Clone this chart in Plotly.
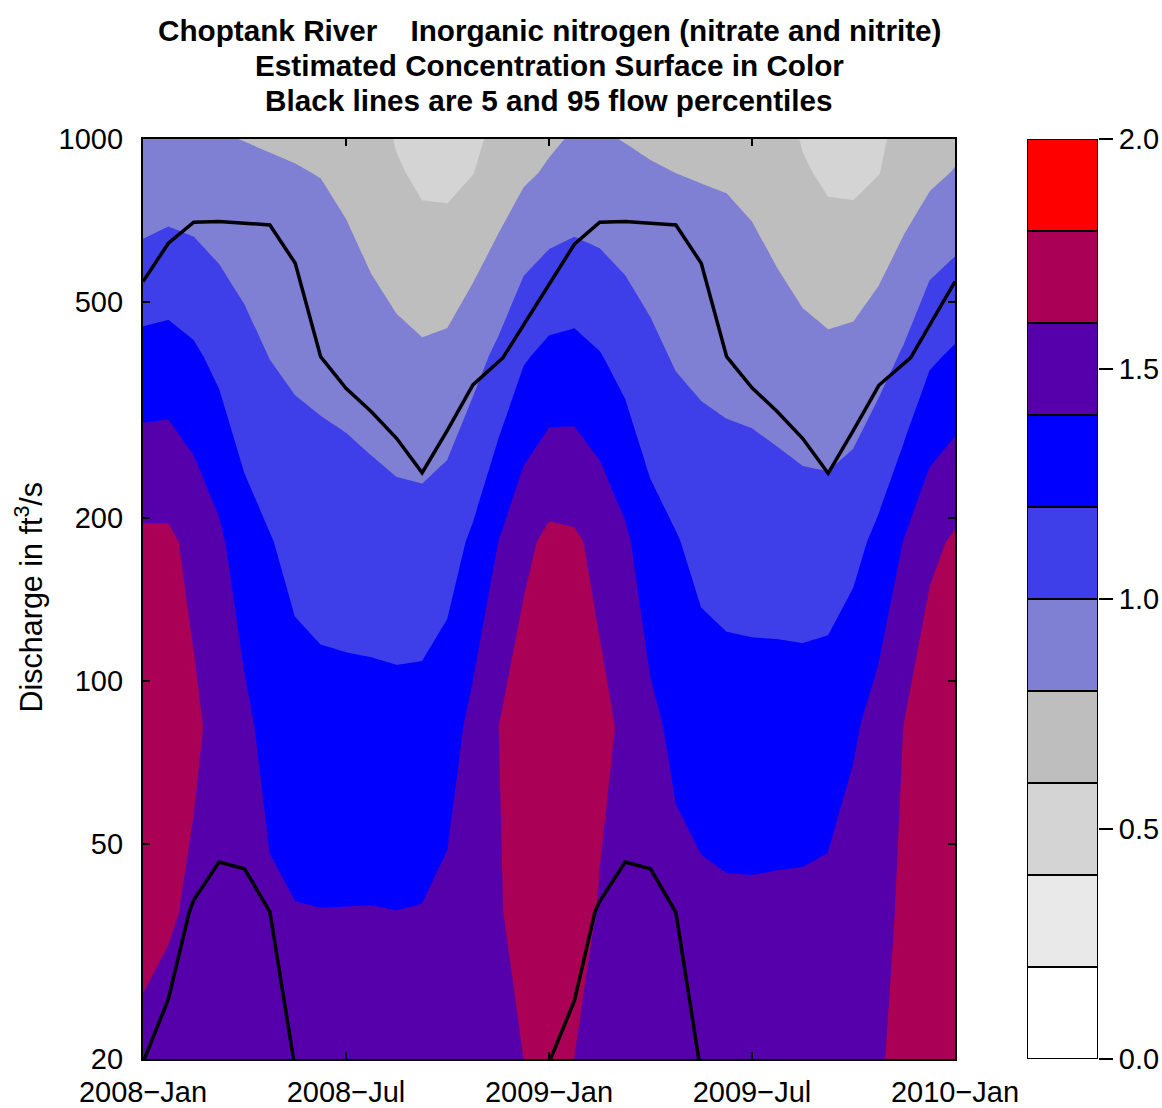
import numpy as np
import plotly.graph_objects as go

# ---- surface grid: time (decimal year) and discharge (ft3/s) ----
decimal_year = [2008.0, 2008.0625, 2008.125, 2008.1875, 2008.25, 2008.3125, 2008.375, 2008.4375,
                2008.5, 2008.5625, 2008.625, 2008.6875, 2008.75, 2008.8125, 2008.875, 2008.9375,
                2009.0, 2009.0625, 2009.125, 2009.1875, 2009.25, 2009.3125, 2009.375, 2009.4375,
                2009.5, 2009.5625, 2009.625, 2009.6875, 2009.75, 2009.8125, 2009.875, 2009.9375,
                2010.0]
discharge_grid = [17.04, 37.41, 82.1, 180.2, 395.5, 868.0, 1905.0]

# estimated concentration (mg/L) along each discharge level
conc_q17 = [1.524, 1.463, 1.50, 1.48, 1.47, 1.45, 1.43, 1.42, 1.42, 1.42, 1.42, 1.42, 1.46, 1.50, 1.53, 1.585,
            1.63, 1.578, 1.53, 1.50, 1.47, 1.47, 1.46, 1.45, 1.45, 1.45, 1.45, 1.46, 1.52, 1.591, 1.65, 1.68, 1.66]
conc_q37 = [1.66, 1.63, 1.56, 1.52, 1.50, 1.435, 1.407, 1.403, 1.404, 1.405, 1.401, 1.406, 1.446, 1.52, 1.585, 1.66,
            1.70, 1.68, 1.586, 1.52, 1.50, 1.463, 1.442, 1.43, 1.429, 1.433, 1.436, 1.447, 1.513, 1.496, 1.66, 1.70, 1.70]
conc_q82 = [1.72, 1.72, 1.636, 1.54, 1.45, 1.323, 1.285, 1.269, 1.265, 1.264, 1.261, 1.267, 1.309, 1.455, 1.598, 1.71,
            1.72, 1.72, 1.647, 1.569, 1.445, 1.355, 1.306, 1.287, 1.283, 1.286, 1.287, 1.30, 1.373, 1.479, 1.605, 1.744, 1.72]
conc_q180 = [1.637, 1.636, 1.548, 1.439, 1.28, 1.211, 1.142, 1.114, 1.104, 1.094, 1.079, 1.079, 1.123, 1.231, 1.40, 1.552,
             1.644, 1.629, 1.549, 1.436, 1.277, 1.214, 1.142, 1.118, 1.112, 1.105, 1.095, 1.098, 1.144, 1.250, 1.409, 1.554, 1.627]
conc_q396 = [1.27, 1.28, 1.233, 1.151, 1.065, 0.997, 0.963, 0.947, 0.928, 0.893, 0.854, 0.829, 0.847, 0.937, 1.04, 1.183,
             1.25, 1.263, 1.212, 1.132, 1.051, 0.982, 0.956, 0.941, 0.930, 0.901, 0.864, 0.842, 0.859, 0.930, 1.025, 1.173, 1.23]
conc_q868 = [0.848, 0.884, 0.876, 0.851, 0.837, 0.819, 0.808, 0.795, 0.757, 0.686, 0.622, 0.559, 0.550, 0.595, 0.680, 0.766,
             0.822, 0.859, 0.852, 0.835, 0.815, 0.799, 0.790, 0.782, 0.753, 0.691, 0.623, 0.563, 0.554, 0.595, 0.687, 0.757, 0.809]
conc_q1905 = [0.62, 0.65, 0.66, 0.622, 0.615, 0.641, 0.64, 0.65, 0.62, 0.55, 0.41, 0.42, 0.42, 0.45, 0.50, 0.60,
              0.54, 0.62, 0.64, 0.612, 0.59, 0.64, 0.64, 0.64, 0.60, 0.55, 0.41, 0.42, 0.42, 0.45, 0.55, 0.60, 0.51]

# ---- flow percentile lines ----
q95_year = [2008.0, 2008.0625, 2008.125, 2008.1875, 2008.25, 2008.3125, 2008.375, 2008.4375, 2008.5,
            2008.5625, 2008.625, 2008.6875, 2008.75, 2008.8125, 2008.8867,
            2009.0625, 2009.125, 2009.1875, 2009.25, 2009.3125, 2009.375, 2009.4375, 2009.5,
            2009.5625, 2009.625, 2009.6875, 2009.75, 2009.8125, 2009.891, 2010.0]
q95_flow = [545.3, 641.9, 702.0, 703.8, 699.0, 693.9, 589.5, 396.3, 346.5,
            313.6, 279.8, 241.9, 290.1, 351.4, 394.6,
            639.2, 702.0, 703.8, 699.0, 693.9, 589.5, 396.3, 347.2,
            313.6, 279.8, 241.3, 290.1, 350.9, 394.6, 545.3]
q5_year = [2008.0, 2008.0625, 2008.114, 2008.125, 2008.1875, 2008.25, 2008.3125, 2008.375, None,
           2009.0, 2009.0625, 2009.1133, 2009.125, 2009.1875, 2009.25, 2009.3125, 2009.375]
q5_flow = [19.7, 25.8, 37.4, 39.3, 46.2, 44.9, 37.4, 19.1, None,
           19.7, 25.6, 37.4, 39.1, 46.2, 44.9, 37.3, 18.7]

# ---- axes / colour key ----
level_edges = [0.0, 0.2, 0.4, 0.6, 0.8, 1.0, 1.2, 1.4, 1.6, 1.8, 2.0]
band_colors = ["#FFFFFF", "#E9E9E9", "#D4D4D4", "#BEBEBE", "#7F7FD4",
               "#3F3FE9", "#0000FF", "#5500AA", "#AA0055", "#FF0000"]
q_ticks = [20, 50, 100, 200, 500, 1000]
q_tick_text = ["20", "50", "100", "200", "500", "1000"]
year_ticks = [2008.0, 2008.5, 2009.0, 2009.5, 2010.0]
year_tick_text = ["2008\u2212Jan", "2008\u2212Jul", "2009\u2212Jan", "2009\u2212Jul", "2010\u2212Jan"]
key_ticks = [0.0, 0.5, 1.0, 1.5, 2.0]
key_tick_text = ["0.0", "0.5", "1.0", "1.5", "2.0"]

rows = [conc_q17, conc_q37, conc_q82, conc_q180, conc_q396, conc_q868, conc_q1905]
for r in rows:
    assert len(r) == len(decimal_year)
z = np.array(rows)
log_q = np.log10(discharge_grid)

zmin, zmax = level_edges[0], level_edges[-1]
nb = len(band_colors)
colorscale = []
for k, c in enumerate(band_colors):
    colorscale.append([k / nb, c])
    colorscale.append([(k + 1) / nb, c])
step = level_edges[1] - level_edges[0]

FONT = "Liberation Sans, Arial, Helvetica, sans-serif"

# page geometry in window pixels (the page margin is removed so the figure fills the window)
W, H = 1162, 1108
plot_l, plot_r, plot_t, plot_b = 143, 955, 139, 1059
key_l, key_r = 1027, 1098
span = key_r - plot_l
ht = plot_b - plot_t
main_dom = [0.0, (plot_r - plot_l) / span]
key_dom = [(key_l - plot_l) / span, 1.0]

fig = go.Figure()
fig.add_trace(go.Contour(
    x=decimal_year, y=log_q, z=z, zmin=zmin, zmax=zmax, autocontour=False,
    contours=dict(start=zmin, end=zmax, size=step, coloring="fill", showlines=False),
    line=dict(width=0, smoothing=0), colorscale=colorscale, showscale=False,
    hoverinfo="skip"))

fig.add_trace(go.Scatter(x=q95_year, y=[np.log10(v) for v in q95_flow], mode="lines",
                         line=dict(color="black", width=3.5), hoverinfo="skip", showlegend=False))
fig.add_trace(go.Scatter(x=q5_year, y=[None if v is None else np.log10(v) for v in q5_flow],
                         mode="lines", connectgaps=False,
                         line=dict(color="black", width=3.5), hoverinfo="skip", showlegend=False))

# colour key: one stacked box per concentration band
fig.add_trace(go.Bar(
    x=[0] * nb, y=[level_edges[k + 1] - level_edges[k] for k in range(nb)], base=level_edges[:-1],
    width=1.0, marker=dict(color=band_colors, line=dict(color="black", width=2)),
    xaxis="x2", yaxis="y2", hoverinfo="skip", showlegend=False))

fig.update_layout(
    width=W, height=H,
    margin=dict(l=plot_l, r=W - key_r, t=plot_t, b=H - plot_b, autoexpand=False),
    paper_bgcolor="white", plot_bgcolor="white",
    showlegend=False, barmode="overlay",
    font=dict(family=FONT, size=29, color="black"),
    xaxis=dict(domain=main_dom, range=[2008.0, 2010.0], tickmode="array", tickvals=year_ticks,
               ticktext=year_tick_text, ticks="inside", ticklen=7, tickwidth=1.6, tickcolor="black",
               showline=True, linecolor="black", linewidth=2.2, mirror="ticks", automargin=False,
               showgrid=False, zeroline=False, tickfont=dict(size=29), ticklabelstandoff=6),
    yaxis=dict(range=[np.log10(20), 3.0], tickmode="array", tickvals=list(np.log10(q_ticks)),
               ticktext=q_tick_text, ticks="inside", ticklen=7, tickwidth=1.6, tickcolor="black",
               showline=True, linecolor="black", linewidth=2.2, mirror="ticks", automargin=False,
               showgrid=False, zeroline=False, tickfont=dict(size=29), ticklabelstandoff=12),
    xaxis2=dict(domain=key_dom, range=[-0.5, 0.5], anchor="y2", visible=False, fixedrange=True,
                automargin=False),
    yaxis2=dict(domain=[0, 1], range=[zmin, zmax], anchor="x2", side="right", automargin=False,
                tickmode="array", tickvals=key_ticks, ticktext=key_tick_text,
                ticks="outside", ticklen=14, tickwidth=1.6, tickcolor="black",
                showline=False, showgrid=False, zeroline=False, tickfont=dict(size=29)),
)

titles = ["Choptank River    Inorganic nitrogen (nitrate and nitrite)",
          "Estimated Concentration Surface in Color",
          "Black lines are 5 and 95 flow percentiles"]
for txt, py in zip(titles, [30.5, 65.5, 100.5]):
    fig.add_annotation(text="<b>" + txt + "</b>", xref="paper", yref="paper",
                       x=(549 - plot_l) / span, y=(plot_b - py) / ht,
                       xanchor="center", yanchor="middle",
                       showarrow=False, font=dict(family=FONT, size=29.7, color="black"))

fig.add_annotation(text="Discharge in ft<sup>3</sup>/s", xref="paper", yref="paper",
                   x=(29.5 - plot_l) / span, y=(plot_b - 597) / ht,
                   xanchor="center", yanchor="middle",
                   textangle=-90, showarrow=False, font=dict(family=FONT, size=30.5, color="black"))

fig.write_html("out.html", config={"displayModeBar": False},
               post_script="document.body.style.margin='0px';")
